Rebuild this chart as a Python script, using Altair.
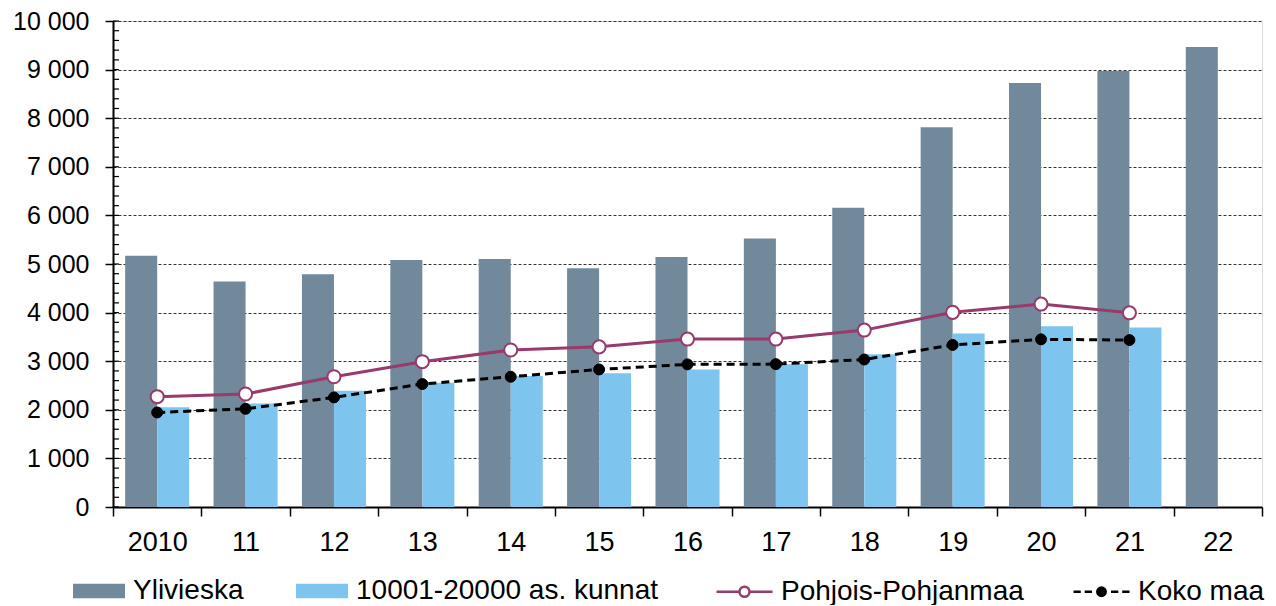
import altair as alt
import pandas as pd

# ---- data ----
years = ["2010", "11", "12", "13", "14", "15", "16", "17", "18", "19", "20", "21", "22"]
ylivieska = [5170, 4640, 4790, 5080, 5105, 4915, 5145, 5525, 6155, 7815, 8725, 8970, 9465]
kunnat = [2055, 2130, 2390, 2555, 2695, 2750, 2830, 2935, 3145, 3570, 3720, 3695, None]
pohjois = [2270, 2325, 2680, 2990, 3230, 3295, 3455, 3455, 3640, 4005, 4175, 3995, None]
koko = [1945, 2020, 2255, 2530, 2680, 2830, 2935, 2940, 3035, 3335, 3450, 3435, None]

bar_names = ["Ylivieska", "10001-20000 as. kunnat"]
line_names = ["Pohjois-Pohjanmaa", "Koko maa"]
y_ticks = list(range(0, 10001, 1000))
minor_ticks = list(range(0, 10001, 200))

# ---- styles ----
DARK = "#72889b"
LIGHT = "#7dc4ee"
PURPLE = "#983a6c"
FONT = "Liberation Sans"
RECT_PATH = "M-1,-0.28H1V0.28H-1Z"
P_PATH = "M-1,0H-0.18M0.18,0H1M0.18,0A0.18,0.18 0 1,1 -0.18,0A0.18,0.18 0 1,1 0.18,0Z"
K_PATH = ("M-1,0H-0.74M-0.6,0H-0.34M0.34,0H0.6M0.74,0H1"
          "M0.15,0A0.15,0.15 0 1,1 -0.15,0A0.15,0.15 0 1,1 0.15,0Z")

rows = []
for series, vals in zip(bar_names, [ylivieska, kunnat]):
    for yr, v in zip(years, vals):
        if v is not None:
            rows.append({"vuosi": yr, "sarja": series, "arvo": v})
bars_df = pd.DataFrame(rows)

rows = []
for series, vals in zip(line_names, [pohjois, koko]):
    for yr, v in zip(years, vals):
        if v is not None:
            rows.append({"vuosi": yr, "sarja": series, "arvo": v})
lines_df = pd.DataFrame(rows)

minor_df = pd.DataFrame({"arvo": minor_ticks})

x = alt.X(
    "vuosi:N", sort=years,
    scale=alt.Scale(paddingInner=0, paddingOuter=0),
    axis=alt.Axis(title=None, labelAngle=0, tickBand="extent", tickSize=9,
                  tickColor="black", tickWidth=1.5, domainColor="black",
                  domainWidth=2, labelFontSize=27, labelPadding=13,
                  labelColor="black", labelFont=FONT, grid=False),
)
y = alt.Y(
    "arvo:Q",
    scale=alt.Scale(domain=[0, 10000], nice=False, zero=True),
    axis=alt.Axis(title=None, values=y_ticks,
                  labelExpr="replace(format(datum.value, ','), ',', ' ')",
                  tickSize=8, tickColor="black", tickWidth=1.5,
                  domainColor="black", domainWidth=2, labelFontSize=25,
                  labelPadding=16, labelColor="black", labelFont=FONT,
                  grid=True, gridColor="#333333", gridDash=[3, 2], gridWidth=1),
)

leg_bars = alt.Legend(
    title=None, orient="none", legendX=-40, legendY=544, direction="horizontal",
    symbolType=RECT_PATH, symbolSize=2704, symbolStrokeWidth=0,
    labelFontSize=28, labelFont=FONT, labelColor="black", labelOffset=8,
    columnPadding=52, padding=0, labelLimit=600,
)
leg_lines = alt.Legend(
    title=None, orient="none", legendX=602, legendY=541, direction="horizontal",
    symbolSize=3136, symbolStrokeWidth=2.5, symbolOpacity=1,
    symbolFillColor="white", symbolStrokeColor="black",
    labelFontSize=28, labelFont=FONT, labelColor="black", labelOffset=7,
    columnPadding=44, padding=0, labelLimit=600,
)

bars = alt.Chart(bars_df).mark_bar().encode(
    x=x, y=y,
    xOffset=alt.XOffset("sarja:N", sort=bar_names,
                        scale=alt.Scale(domain=bar_names, paddingOuter=0.38, paddingInner=0)),
    color=alt.Color("sarja:N", scale=alt.Scale(domain=bar_names, range=[DARK, LIGHT]),
                    legend=leg_bars),
)

minor = alt.Chart(minor_df).mark_rule(color="black", strokeWidth=1.2).encode(
    y=y, x=alt.value(0), x2=alt.value(6)
)

line_p = alt.Chart(lines_df).transform_filter(
    alt.datum.sarja == line_names[0]
).mark_line(color=PURPLE, strokeWidth=3).encode(x=x, y=y)

line_k = alt.Chart(lines_df).transform_filter(
    alt.datum.sarja == line_names[1]
).mark_line(color="black", strokeWidth=3, strokeDash=[8, 5]).encode(x=x, y=y)

pts_p = alt.Chart(lines_df).transform_filter(
    alt.datum.sarja == line_names[0]
).mark_point(shape="circle", filled=True, fill="white", stroke=PURPLE,
             strokeWidth=2, size=170, opacity=1).encode(x=x, y=y)

pts_k = alt.Chart(lines_df).transform_filter(
    alt.datum.sarja == line_names[1]
).mark_point(shape="circle", filled=True, fill="black", stroke="black",
             strokeWidth=1, size=120, opacity=1).encode(x=x, y=y)

legend_layer = alt.Chart(lines_df).mark_point(opacity=0).encode(
    x=x, y=y,
    shape=alt.Shape("sarja:N", scale=alt.Scale(domain=line_names, range=[P_PATH, K_PATH]),
                    legend=leg_lines),
    fill=alt.Fill("sarja:N", scale=alt.Scale(domain=line_names, range=["white", "black"]),
                  legend=leg_lines),
    stroke=alt.Stroke("sarja:N", scale=alt.Scale(domain=line_names, range=[PURPLE, "black"]),
                      legend=leg_lines),
)

chart = alt.layer(bars, minor, line_p, line_k, pts_p, pts_k, legend_layer).resolve_scale(
    x="shared", y="shared"
).properties(
    width=1149, height=486,
    padding={"left": 105, "top": 13, "right": 6, "bottom": 98},
    autosize=alt.AutoSizeParams(type="none"),
    background="white",
).configure_view(
    stroke="#222222", strokeWidth=2, fill="#f9f9f9"
).configure(font=FONT)

chart.save("out.html", embed_options={"renderer": "svg", "actions": False})
